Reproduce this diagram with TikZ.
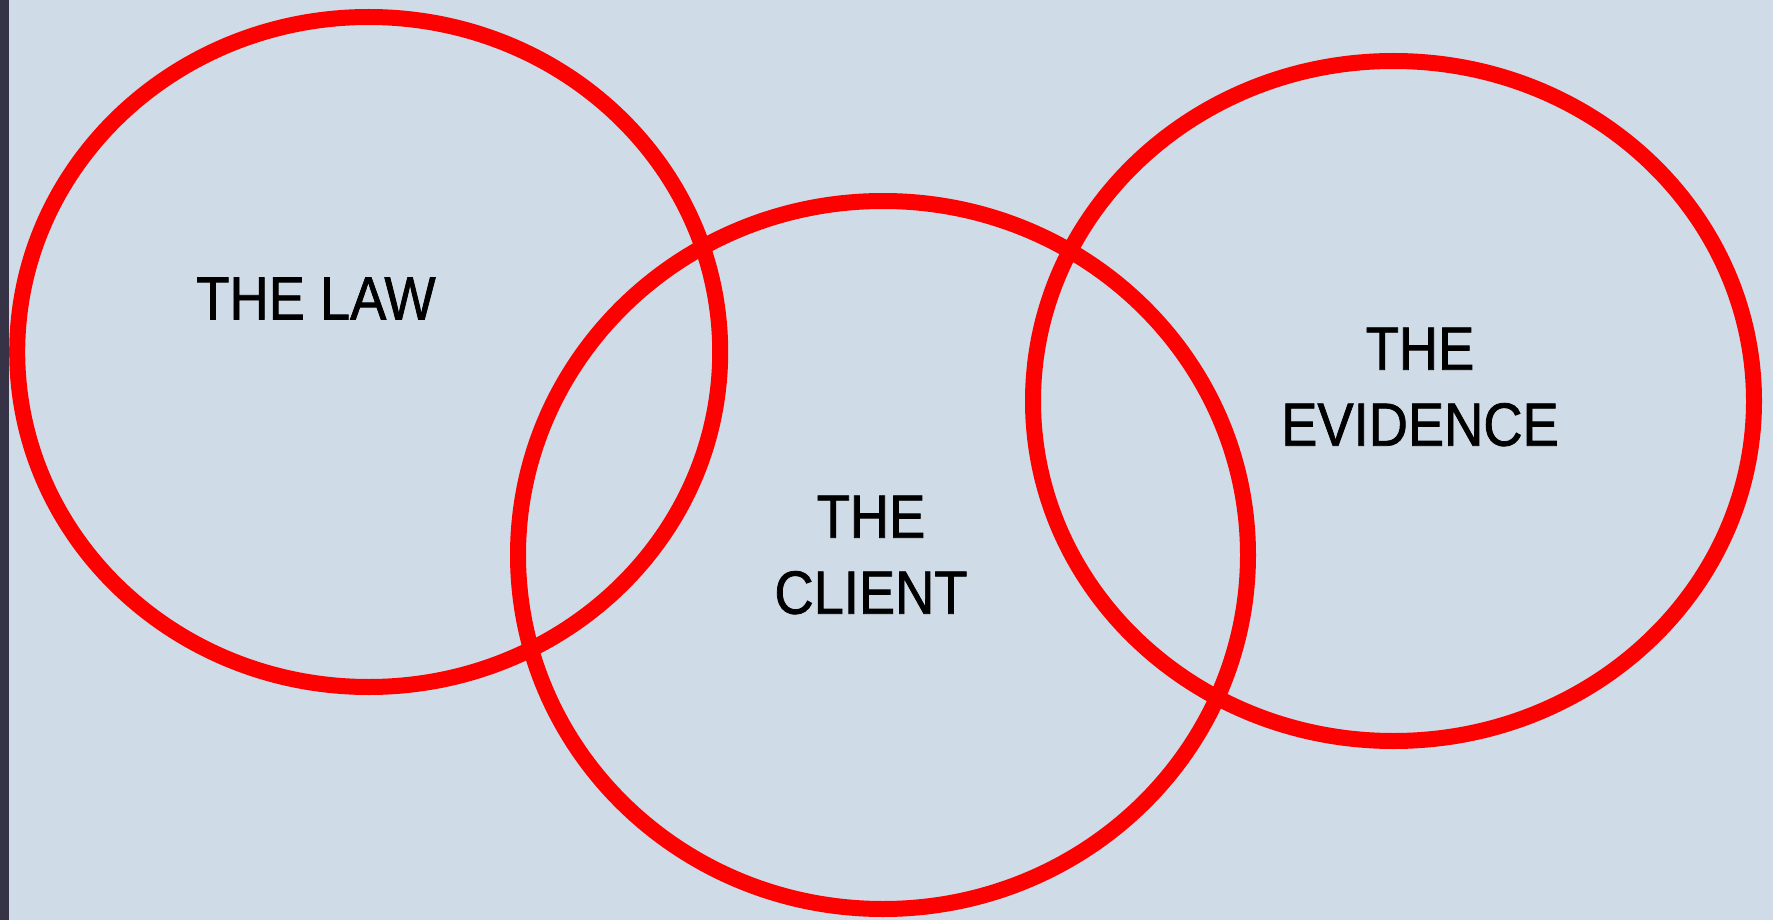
\documentclass[tikz,border=0pt]{standalone}
\usepackage{fontspec}
\newfontfamily\lblfont{Liberation Sans}[FakeStretch=0.89,FakeBold=1.2]
\usetikzlibrary{shapes.geometric}
\definecolor{bgblue}{RGB}{207,219,230}
\definecolor{edgedark}{RGB}{53,51,69}
\tikzstyle{ring} = [ellipse, draw=red, line width=16pt, inner sep=0pt]
\tikzstyle{lbl} = [font=\lblfont\fontsize{61}{76}\selectfont, align=center, inner sep=0pt]

\begin{document}
\begin{tikzpicture}[x=1pt,y=-1pt]
  \fill[bgblue] (0,0) rectangle (1773,920);
  \fill[edgedark] (0,0) rectangle (9,920);
  \useasboundingbox (0,0) rectangle (1773,920);

  \node[ring,minimum width=703pt,minimum height=670pt] (law) at (368.7,352) {};
  \node[ring,minimum width=730pt,minimum height=708pt] (client) at (883,555) {};
  \node[ring,minimum width=721pt,minimum height=680pt] (evidence) at (1393.5,401) {};

  \node[lbl] (lawtext) at (316,298.5) {THE LAW};
  \node[lbl] (clienttext) at (871,555) {THE\\CLIENT};
  \node[lbl] (evidencetext) at (1420,387) {THE\\EVIDENCE};
\end{tikzpicture}
\end{document}
